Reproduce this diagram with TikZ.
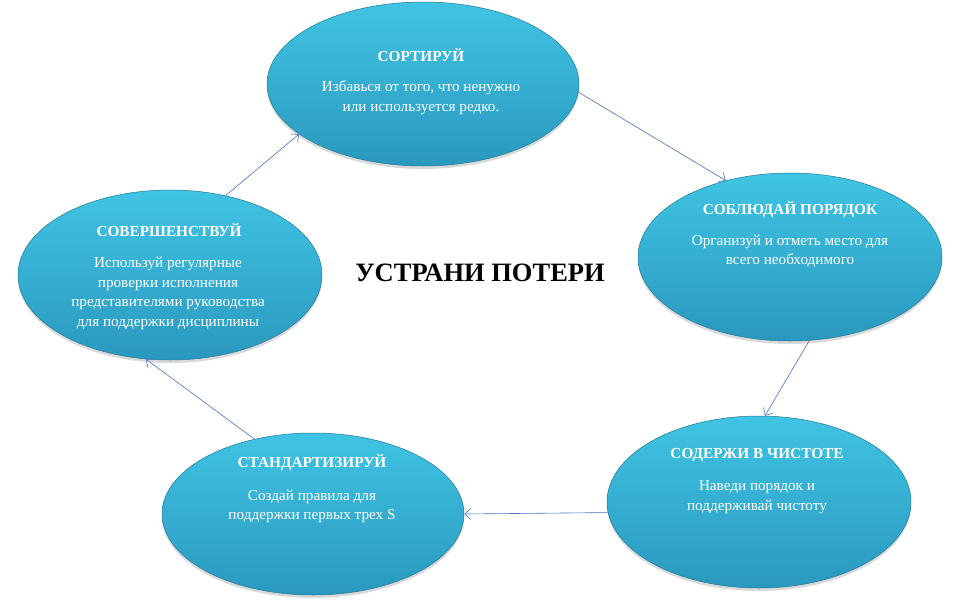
\documentclass[tikz,border=0pt]{standalone}
\usepackage{fontspec}
\setmainfont{Liberation Serif}
\usetikzlibrary{shapes.geometric,shadows,arrows.meta}
\definecolor{stagetop}{RGB}{64,196,228}
\definecolor{stagebottom}{RGB}{42,152,190}
\definecolor{stageline}{RGB}{34,120,152}
\definecolor{linkblue}{RGB}{72,112,190}

\begin{document}
\begin{tikzpicture}[x=1pt,y=-1pt,
    stage/.style={ellipse,draw=stageline,line width=0.5pt,top color=stagetop,bottom color=stagebottom,inner sep=0pt,
        drop shadow={shadow xshift=0pt,shadow yshift=-3pt,opacity=0.3}},
    head/.style={text=white,font=\bfseries\fontsize{15.3}{18}\selectfont},
    body/.style={text=white,align=center,font=\fontsize{15.2}{19.5}\selectfont},
    link/.style={draw=linkblue,line width=0.6pt,-{Straight Barb[length=6pt,width=11pt]}}
]
    \useasboundingbox (0,0) rectangle (961,605);

    % the five steps
    \foreach \name/\x/\y/\rx/\ry in {s1/423/84/156/82, s2/790/257/152/84, s3/759/502/152/86,
                                      s4/313/514/151/81, s5/170/275/152/85} {
        \node[stage,minimum width=2*\rx,minimum height=2*\ry] (\name) at (\x,\y) {};
    }

    % texts
    \node[head] (h1) at (421,55) {СОРТИРУЙ};
    \node[body] (b1) at (421,97.5) {Избавься от того, что ненужно\\или используется редко.};

    \node[head] (h2) at (790,210) {СОБЛЮДАЙ ПОРЯДОК};
    \node[body] (b2) at (790,251.5) {Организуй и отметь место для\\всего необходимого};

    \node[head] (h3) at (757,455) {СОДЕРЖИ В ЧИСТОТЕ};
    \node[body] (b3) at (757,497) {Наведи порядок и\\поддерживай чистоту};

    \node[head] (h4) at (312,463) {СТАНДАРТИЗИРУЙ};
    \node[body] (b4) at (312,506.5) {Создай правила для\\поддержки первых трех S};

    \node[head] (h5) at (169,230) {СОВЕРШЕНСТВУЙ};
    \node[body] (b5) at (168,293.5) {Используй регулярные\\проверки исполнения\\представителями руководства\\для поддержки дисциплины};

    \node[font=\bfseries\fontsize{26.5}{30}\selectfont] (title) at (480,273) {УСТРАНИ ПОТЕРИ};

    % cycle
    \draw[link] (s1.-3) -- (s2.130);
    \draw[link] (s2.-77) -- (s3.86);
    \draw[link] (s3.184) -- (s4.0);
    \draw[link] (s4.128) -- (s5.-106);
    \draw[link] (s5.55) -- (s1.202);
\end{tikzpicture}
\end{document}
